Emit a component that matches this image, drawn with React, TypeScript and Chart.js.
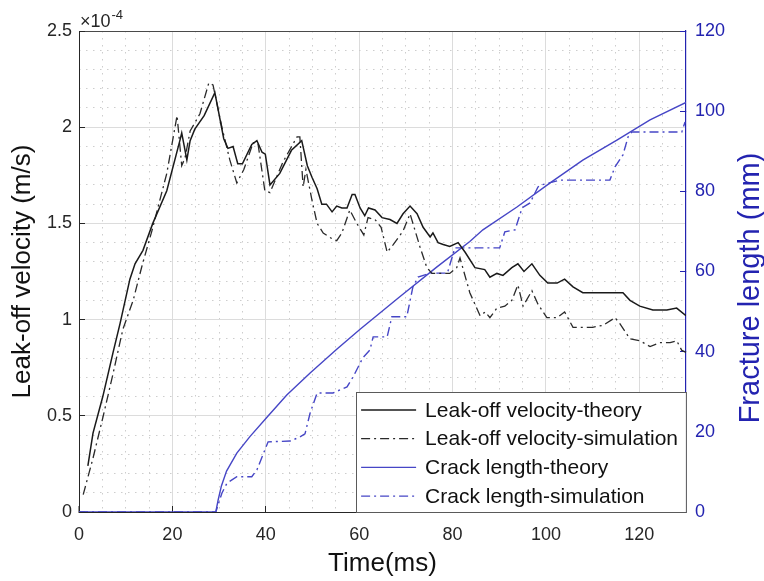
import React, { useEffect, useRef } from 'react';
import { Chart, registerables } from 'chart.js';

Chart.register(...registerables);

const FONT = '"Liberation Sans", Arial, Helvetica, sans-serif';

// ---- Data (velocity in units of 1e-4 m/s, crack length in mm, time in ms) ----
const velTheoryT = [1.9, 3.0, 5.1, 7.3, 8.8, 10.9, 12, 13.7, 15.8, 18.8, 21.6, 22.0, 23.1, 23.8, 24.8, 26.8, 29.1, 31.0, 31.9, 33, 34, 35.0, 37, 38.1, 39.2, 39.9, 40.9, 43, 45.5, 47.7, 48.9, 49.9, 51, 52, 53, 54.2, 55.2, 56.3, 57.4, 58.5, 59.1, 60.2, 61.2, 62, 63.4, 64.9, 66.6, 68.1, 69.4, 70.9, 72.4, 73.7, 75.2, 75.8, 76.9, 78, 79.4, 81.2, 82.7, 84.8, 86.9, 88, 89.5, 90.8, 92.7, 94, 95.3, 97, 98.7, 100.4, 102.4, 104, 105.8, 107.9, 110, 112.2, 114.3, 116.5, 118, 120.1, 122.9, 125.9, 128, 130];
const velTheoryV = [0.24, 0.41, 0.60, 0.83, 0.98, 1.21, 1.29, 1.36, 1.50, 1.67, 1.93, 1.97, 1.83, 1.93, 1.99, 2.06, 2.18, 1.94, 1.89, 1.90, 1.81, 1.81, 1.91, 1.93, 1.87, 1.86, 1.70, 1.76, 1.88, 1.93, 1.80, 1.74, 1.68, 1.60, 1.60, 1.56, 1.59, 1.58, 1.58, 1.65, 1.65, 1.58, 1.54, 1.58, 1.57, 1.53, 1.52, 1.50, 1.55, 1.59, 1.55, 1.48, 1.43, 1.45, 1.40, 1.39, 1.38, 1.40, 1.35, 1.27, 1.26, 1.22, 1.24, 1.23, 1.27, 1.29, 1.25, 1.29, 1.23, 1.19, 1.19, 1.21, 1.17, 1.14, 1.14, 1.14, 1.14, 1.14, 1.10, 1.07, 1.05, 1.05, 1.06, 1.02];

const velSimT = [0.9, 3, 5.1, 7.3, 9.4, 11.6, 13.5, 15.6, 18.8, 21, 22, 22.7, 23.8, 25.9, 27.8, 28.7, 30.6, 32.3, 33.8, 35.3, 37.3, 38.3, 39.8, 40.9, 43.7, 46.7, 47.3, 48, 48.6, 49.9, 51, 52.3, 54.2, 55.2, 56.3, 58, 59.5, 61, 61.9, 63.4, 64.7, 66, 67.3, 69.4, 70.9, 73, 74.5, 75.6, 77, 78.5, 79.4, 80.9, 81.6, 83.7, 85.9, 87, 88, 89.5, 91.2, 92.7, 94, 95.1, 97, 98.3, 100.2, 102.4, 104, 105.8, 107.9, 110, 112.2, 114.8, 115.8, 118, 120.1, 122.3, 124.4, 126.6, 128, 129.1, 130];
const velSimV = [0.09, 0.28, 0.49, 0.72, 0.95, 1.10, 1.28, 1.46, 1.76, 2.06, 1.80, 1.84, 1.98, 2.07, 2.23, 2.22, 2.00, 1.83, 1.71, 1.78, 1.92, 1.92, 1.67, 1.66, 1.82, 1.95, 1.95, 1.69, 1.78, 1.62, 1.50, 1.45, 1.42, 1.41, 1.45, 1.57, 1.50, 1.44, 1.53, 1.52, 1.48, 1.35, 1.39, 1.46, 1.55, 1.38, 1.27, 1.24, 1.24, 1.24, 1.24, 1.27, 1.32, 1.14, 1.02, 1.04, 1.01, 1.06, 1.07, 1.10, 1.18, 1.07, 1.15, 1.08, 1.01, 1.01, 1.04, 0.96, 0.96, 0.96, 0.97, 1.01, 0.98, 0.90, 0.89, 0.86, 0.88, 0.88, 0.89, 0.84, 0.83];

const crackTheoryT = [0, 29.3, 29.8, 30.5, 31.6, 33.8, 36.6, 40.3, 44.5, 49.5, 55.2, 60.2, 68.7, 76.6, 83.7, 86.5, 93.8, 100.9, 107.9, 115.2, 122.3, 130];
const crackTheoryL = [0, 0, 3, 6.5, 10.2, 14.7, 18.8, 23.7, 29.2, 34.7, 40.6, 45.6, 53.7, 61.1, 67.5, 70.4, 76.1, 82.1, 87.8, 92.8, 97.8, 102.2];

const crackSimT = [0, 29.3, 30.6, 31.7, 33.8, 37, 38.1, 39.3, 40.5, 45.2, 47.3, 48.4, 49.5, 51, 54.4, 57.4, 58.7, 60.8, 62.3, 63, 66, 67, 70.2, 71.5, 72.6, 75.2, 78.9, 80.5, 90.1, 91.2, 93.4, 94.9, 96.6, 98.3, 99.1, 103, 113.7, 114.8, 116.5, 117.6, 118.4, 129.1, 129.8];
const crackSimL = [0, 0, 4.7, 7.2, 8.8, 8.8, 10.5, 14, 17.5, 17.7, 18.7, 19.5, 24.7, 29.7, 29.7, 31.2, 33.7, 38.5, 40.4, 43.7, 43.7, 48.7, 48.7, 56.1, 58.6, 59.6, 59.6, 65.9, 65.9, 69.9, 70.4, 75.9, 77.1, 81.1, 81.6, 82.8, 82.8, 86.1, 89.1, 93.6, 94.8, 94.8, 97.3];

const seriesLabels = [
  'Leak-off velocity-theory',
  'Leak-off velocity-simulation',
  'Crack length-theory',
  'Crack length-simulation',
];

const xTickValues = [0, 20, 40, 60, 80, 100, 120];

const BLUE_AXIS = '#2323b0';
const BLUE_LINE = '#4646c6';
const DASHDOT = [9, 4, 2, 4];

const toPoints = (ts: number[], vs: number[]) => ts.map((t, i) => ({ x: t, y: vs[i] }));

const isMult = (v: number, m: number) => Math.abs(v / m - Math.round(v / m)) < 1e-6;

const boxLegend = {
  id: 'boxLegend',
  afterDatasetsDraw(chart: any) {
    const { ctx, chartArea } = chart;
    const ds = chart.data.datasets;
    ctx.save();
    ctx.font = `21px ${FONT}`;
    const textW = Math.max(...ds.map((d: any) => ctx.measureText(d.label).width));
    const padL = 5, sample = 55, gap = 9, padR = 8;
    const rowH = 28.7;
    const w = padL + sample + gap + textW + padR;
    const h = 120;
    const x0 = chartArea.right - w;
    const y0 = chartArea.bottom - h;
    ctx.fillStyle = '#ffffff';
    ctx.fillRect(x0, y0, w, h);
    ctx.strokeStyle = '#5a5a5a';
    ctx.lineWidth = 1;
    ctx.strokeRect(Math.round(x0) + 0.5, Math.round(y0) + 0.5, w, h);
    ds.forEach((d: any, i: number) => {
      const cy = y0 + 18 + i * rowH;
      ctx.strokeStyle = d.borderColor;
      ctx.lineWidth = d.borderWidth;
      ctx.setLineDash(d.borderDash || []);
      ctx.beginPath();
      ctx.moveTo(x0 + padL, cy);
      ctx.lineTo(x0 + padL + sample, cy);
      ctx.stroke();
      ctx.setLineDash([]);
      ctx.fillStyle = '#111111';
      ctx.textBaseline = 'middle';
      ctx.textAlign = 'left';
      ctx.fillText(d.label, x0 + padL + sample + gap, cy + 1);
    });
    ctx.restore();
  },
};

const extraText = {
  id: 'extraText',
  afterDraw(chart: any) {
    const { ctx, chartArea } = chart;
    ctx.save();
    // exponent label
    ctx.fillStyle = '#262626';
    ctx.textBaseline = 'alphabetic';
    ctx.textAlign = 'left';
    ctx.font = `18px ${FONT}`;
    const base = '\u00d710';
    ctx.fillText(base, chartArea.left + 1, chartArea.top - 4);
    const bw = ctx.measureText(base).width;
    ctx.font = `13px ${FONT}`;
    ctx.fillText('-4', chartArea.left + 1 + bw + 1, chartArea.top - 12);
    // right axis title (reads bottom to top)
    ctx.fillStyle = BLUE_AXIS;
    ctx.font = `29px ${FONT}`;
    ctx.textAlign = 'center';
    ctx.textBaseline = 'middle';
    ctx.translate(751, 288);
    ctx.rotate(-Math.PI / 2);
    ctx.fillText('Fracture length (mm)', 0, 0);
    ctx.restore();
  },
};

export default function App() {
  const ref = useRef<HTMLCanvasElement>(null);

  useEffect(() => {
    const chart = new Chart(ref.current as HTMLCanvasElement, {
      type: 'line',
      data: {
        datasets: [
          {
            label: seriesLabels[0],
            data: toPoints(velTheoryT, velTheoryV),
            borderColor: '#1a1a1a',
            borderWidth: 1.5,
            yAxisID: 'y',
            pointRadius: 0,
          },
          {
            label: seriesLabels[1],
            data: toPoints(velSimT, velSimV),
            borderColor: '#2a2a2a',
            borderWidth: 1.3,
            borderDash: DASHDOT,
            yAxisID: 'y',
            pointRadius: 0,
          },
          {
            label: seriesLabels[2],
            data: toPoints(crackTheoryT, crackTheoryL),
            borderColor: BLUE_LINE,
            borderWidth: 1.4,
            yAxisID: 'y1',
            pointRadius: 0,
          },
          {
            label: seriesLabels[3],
            data: toPoints(crackSimT, crackSimL),
            borderColor: BLUE_LINE,
            borderWidth: 1.4,
            borderDash: DASHDOT,
            yAxisID: 'y1',
            pointRadius: 0,
          },
        ],
      },
      options: {
        animation: false,
        responsive: true,
        maintainAspectRatio: false,
        devicePixelRatio: 1,
        layout: { padding: { top: 31, left: 0, right: 0, bottom: 0 } },
        plugins: { legend: { display: false }, tooltip: { enabled: false } },
        elements: { point: { radius: 0 }, line: { tension: 0 } },
        scales: {
          xMinor: {
            type: 'linear',
            position: 'bottom',
            min: 0,
            max: 130,
            ticks: { display: false, stepSize: 5, autoSkip: false },
            grid: {
              drawTicks: false,
              color: '#cdcdcd',
              lineWidth: (c: any) => (c.tick && isMult(c.tick.value, 20)) || (c.tick && c.tick.value === 130) ? 0 : 1,
            },
            border: { display: false, dash: [1.5, 5.5] },
            afterFit: (s: any) => { s.height = 0; },
          },
          x: {
            type: 'linear',
            position: 'bottom',
            min: 0,
            max: 130,
            afterBuildTicks: (s: any) => { s.ticks = xTickValues.map((v) => ({ value: v })); },
            ticks: {
              autoSkip: false,
              maxRotation: 0,
              padding: 18,
              color: '#262626',
              font: { family: FONT, size: 18 },
              callback: (v: any) => String(v),
            },
            grid: {
              color: '#dcdcdc',
              lineWidth: (c: any) => (c.tick && c.tick.value === 0 ? 0 : 1),
              drawTicks: true,
              tickLength: -6,
              tickColor: '#262626',
              tickWidth: 1,
            },
            border: { color: '#262626', width: 1 },
            title: {
              display: true,
              text: 'Time(ms)',
              color: '#111111',
              font: { family: FONT, size: 26, lineHeight: 1 },
              padding: { top: 0, bottom: 4 },
            },
            afterFit: (s: any) => { s.height = 69; },
          },
          yMinor: {
            type: 'linear',
            position: 'left',
            min: 0,
            max: 2.5,
            ticks: { display: false, stepSize: 0.1, autoSkip: false },
            grid: {
              drawTicks: false,
              color: '#cdcdcd',
              lineWidth: (c: any) => (c.tick && isMult(c.tick.value, 0.5) ? 0 : 1),
            },
            border: { display: false, dash: [1.5, 5.5] },
            afterFit: (s: any) => { s.width = 0; },
          },
          y: {
            type: 'linear',
            position: 'left',
            min: 0,
            max: 2.5,
            ticks: {
              stepSize: 0.5,
              autoSkip: false,
              padding: 13,
              color: '#262626',
              font: { family: FONT, size: 18 },
              callback: (v: any) => String(v),
            },
            grid: {
              color: (c: any) => (c.tick && c.tick.value === 2.5 ? '#4a4a4a' : '#dcdcdc'),
              lineWidth: (c: any) => (c.tick && c.tick.value === 0 ? 0 : 1),
              drawTicks: true,
              tickLength: -6,
              tickColor: '#262626',
              tickWidth: 1,
            },
            border: { color: '#262626', width: 1 },
            title: {
              display: true,
              text: 'Leak-off velocity (m/s)',
              color: '#111111',
              font: { family: FONT, size: 26, lineHeight: 1 },
              padding: { top: 9.5, bottom: 0 },
            },
            afterFit: (s: any) => { s.width = 79; },
          },
          y1: {
            type: 'linear',
            position: 'right',
            min: 0,
            max: 120,
            ticks: {
              stepSize: 20,
              autoSkip: false,
              padding: 15,
              color: BLUE_AXIS,
              font: { family: FONT, size: 18 },
            },
            grid: {
              drawOnChartArea: false,
              drawTicks: true,
              tickLength: -6,
              tickColor: BLUE_AXIS,
              tickWidth: 1,
            },
            border: { color: BLUE_AXIS, width: 1.2 },
            afterFit: (s: any) => { s.width = 78; },
          },
        },
      } as any,
      plugins: [boxLegend, extraText],
    });
    return () => chart.destroy();
  }, []);

  return (
    <div style={{ position: 'absolute', left: 0, top: 0, width: 764, height: 581, background: '#ffffff' }}>
      <canvas ref={ref} />
    </div>
  );
}
